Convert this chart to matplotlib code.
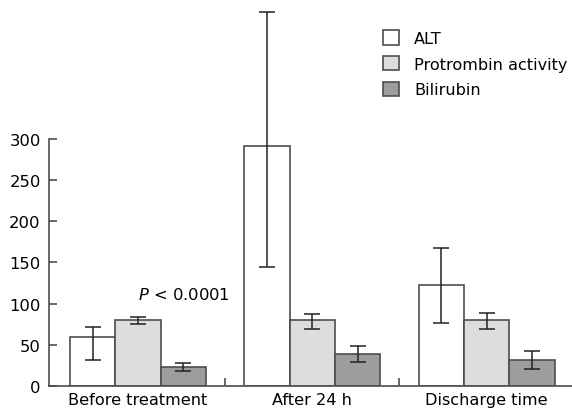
import matplotlib.pyplot as plt
import numpy as np

groups = ["Before treatment", "After 24 h", "Discharge time"]
series = ["ALT", "Protrombin activity", "Bilirubin"]
means = {
    "ALT": [59, 292, 123],
    "Protrombin activity": [80, 80, 80],
    "Bilirubin": [23, 39, 31],
}
err_low = {
    "ALT": [31, 144, 77],
    "Protrombin activity": [75, 69, 69],
    "Bilirubin": [18, 29, 21],
}
err_high = {
    "ALT": [72, 454, 168],
    "Protrombin activity": [84, 87, 89],
    "Bilirubin": [28, 49, 42],
}
fill = {"ALT": "#ffffff", "Protrombin activity": "#dcdddd", "Bilirubin": "#9d9d9d"}
yticks = [0, 50, 100, 150, 200, 250, 300]

fig = plt.figure(figsize=(5.72, 4.14), dpi=100)
ax = fig.add_axes([49 / 572, 27 / 414, 1 - 49 / 572, 387 / 414])

x = np.arange(len(groups))
w = 0.26
edge = "#4d4d4d"
handles = []
for i, s in enumerate(series):
    pos = x + (i - 1) * w
    m = np.array(means[s])
    lo = m - np.array(err_low[s])
    hi = np.array(err_high[s]) - m
    b = ax.bar(pos, m, w, color=fill[s], edgecolor=edge, linewidth=1.2, label=s)
    ax.errorbar(pos, m, yerr=[lo, hi], fmt="none", ecolor="#222222",
                elinewidth=1.1, capsize=5.5, capthick=1.1)
    handles.append(b)

ax.set_xlim(-0.51, 2.49)
ax.set_ylim(0, 470)
ax.spines["top"].set_visible(False)
ax.spines["right"].set_visible(False)
ax.spines["left"].set_bounds(0, 300)
for sp in ["left", "bottom"]:
    ax.spines[sp].set_color(edge)
    ax.spines[sp].set_linewidth(1.2)

ax.set_yticks(yticks)
ax.set_yticklabels([str(v) for v in yticks], fontsize=11.8)
ax.tick_params(axis="y", direction="in", length=6, width=1.2, color=edge, pad=6)

ax.set_xticks(x)
ax.set_xticklabels(groups, fontsize=11.6)
ax.set_xticks([0.5, 1.5], minor=True)
ax.tick_params(axis="x", which="major", length=0, pad=4)
ax.tick_params(axis="x", which="minor", direction="in", length=6, width=1.2, color=edge)

ax.text(0.0, 112, "$P$ < 0.0001", fontsize=11.8, ha="left", va="center")

ax.legend(handles=handles, loc="upper left", bbox_to_anchor=(0.627, 0.936),
          frameon=False, fontsize=11.6, handlelength=1.0, handleheight=1.0,
          handletextpad=0.9, labelspacing=0.62, borderaxespad=0)

fig.savefig("out.png", dpi=100)
